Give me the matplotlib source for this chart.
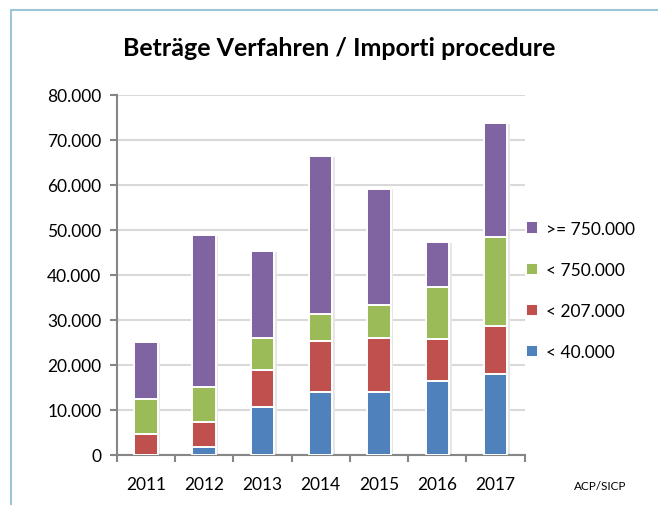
import matplotlib
matplotlib.use('Agg')
import matplotlib.pyplot as plt
import numpy as np
from matplotlib.patches import Rectangle
from matplotlib.ticker import FuncFormatter, FixedLocator

years = ['2011', '2012', '2013', '2014', '2015', '2016', '2017']
under_40k = [0, 1800, 10500, 14000, 13900, 16400, 18000]
under_207k = [4600, 5500, 8300, 11300, 12000, 9300, 10700]
under_750k = [7800, 7700, 7100, 6000, 7400, 11600, 19800]
over_750k = [12600, 33800, 19300, 35100, 25900, 9900, 25200]

series_labels = ['< 40.000', '< 207.000', '< 750.000', '>= 750.000']
colors = ['#4F81BD', '#C0504D', '#9BBB59', '#8064A2']

plt.rcParams['font.family'] = ['Lato', 'DejaVu Sans']

fig = plt.figure(figsize=(6.58, 5.06), dpi=100)
ax = fig.add_axes([116.7 / 658, 50.3 / 506, 408 / 658, 359.7 / 506])

# light blue frame around the chart area (runs off the right and bottom edge)
frame = Rectangle((11 / 658, -0.2), 1.2, 0.2 + 1 - 11 / 506, transform=fig.transFigure,
                  fill=False, edgecolor='#9CC6D6', linewidth=1.5, clip_on=False)
fig.patches.append(frame)

x = np.arange(len(years))
bottom = np.zeros(len(years))
for vals, col, lab in zip([under_40k, under_207k, under_750k, over_750k], colors, series_labels):
    vals = np.array(vals)
    # soft shadow behind the bars
    ax.bar(x + 0.03, vals, 0.43, bottom=bottom - 150, color='#E6E6E6', edgecolor='none', zorder=2)
    ax.bar(x, vals, 0.40, bottom=bottom, color=col, edgecolor='white', linewidth=1.4,
           label=lab, zorder=3)
    bottom += vals

ax.set_xlim(-0.5, 6.5)
ax.set_ylim(0, 80000)
ax.set_yticks(np.arange(0, 80001, 10000))
ax.yaxis.set_major_formatter(FuncFormatter(lambda v, p: f"{int(v):,}".replace(',', '.')))
ax.set_xticks(x)
ax.set_xticklabels(years)
ax.xaxis.set_minor_locator(FixedLocator(np.arange(-0.5, 7, 1)))
ax.tick_params(axis='x', which='major', length=0, labelsize=12.5, pad=15)
ax.tick_params(axis='x', which='minor', length=5, width=1.5, color='#868686')
ax.tick_params(axis='y', length=5, width=1.5, color='#868686', labelsize=12.5, pad=6)

ax.grid(axis='y', color='#D9D9D9', linewidth=1.5, zorder=0)
ax.set_axisbelow(True)
for s in ['top', 'right']:
    ax.spines[s].set_visible(False)
for s in ['left', 'bottom']:
    ax.spines[s].set_color('#868686')
    ax.spines[s].set_linewidth(1.5)

handles, labels = ax.get_legend_handles_labels()
fig.legend(handles[::-1], labels[::-1], loc='upper left', bbox_to_anchor=(510 / 658, 1 - 206 / 506),
           frameon=False, fontsize=12.5, handlelength=0.7, handleheight=0.7,
           handletextpad=0.5, labelspacing=1.45)

fig.text(339 / 658, 1 - 48 / 506, 'Beträge Verfahren / Importi procedure',
         ha='center', va='center', fontsize=18, fontweight='bold')
fig.text(600 / 658, 1 - 487 / 506, 'ACP/SICP', ha='center', va='center', fontsize=8.5)

fig.savefig('out.png', dpi=100)
